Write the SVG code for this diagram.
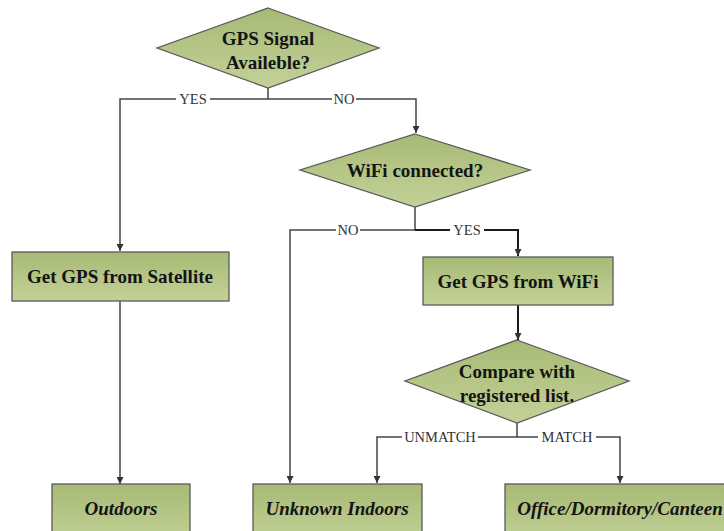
<svg xmlns="http://www.w3.org/2000/svg" width="724" height="531" viewBox="0 0 724 531">
<defs>
<linearGradient id="g" x1="0" y1="0" x2="0" y2="1">
<stop offset="0" stop-color="#a7ba74"/>
<stop offset="1" stop-color="#c3d198"/>
</linearGradient>
<marker id="ah" viewBox="0 0 10 10" refX="10" refY="5" markerWidth="7" markerHeight="7" markerUnits="userSpaceOnUse" orient="auto">
<path d="M0,0 L10,5 L0,10 z" fill="#333"/>
</marker>
<style>
.shape{fill:url(#g);stroke:#5a5a5a;stroke-width:1.3}
.t{font-family:"Liberation Serif","Times New Roman",serif;font-weight:bold;font-size:19px;fill:#141414;text-anchor:middle;dominant-baseline:central}
.ti{font-style:italic}
.ln{fill:none;stroke:#444;stroke-width:1.5}
.lnb{fill:none;stroke:#1a1a1a;stroke-width:2}
.lb{font-family:"Liberation Serif","Times New Roman",serif;font-size:14.5px;fill:#333;text-anchor:middle;dominant-baseline:central}
.bg{fill:#fff}
</style>
</defs>
<rect width="724" height="531" fill="#fff"/>
<g id="connectors">
<path class="ln" d="M268,88 V99"/>
<path class="ln" d="M268,99 H120 V251" marker-end="url(#ah)"/>
<path class="ln" d="M268,99 H416 V133" marker-end="url(#ah)"/>
<path class="ln" d="M415,207 V230"/>
<path class="ln" d="M415,230 H290 V483" marker-end="url(#ah)"/>
<path class="lnb" d="M415,230 H518 V256" marker-end="url(#ah)"/>
<path class="lnb" d="M518,305 V340" marker-end="url(#ah)"/>
<path class="ln" d="M120,301 V484" marker-end="url(#ah)"/>
<path class="ln" d="M517,423 V437"/>
<path class="ln" d="M517,437 H377 V483" marker-end="url(#ah)"/>
<path class="ln" d="M517,437 H620 V483" marker-end="url(#ah)"/>
<rect class="bg" x="176" y="92" width="34" height="14"/>
<text class="lb" x="193" y="99">YES</text>
<rect class="bg" x="332" y="92" width="24" height="14"/>
<text class="lb" x="344" y="99">NO</text>
<rect class="bg" x="336" y="223" width="24" height="14"/>
<text class="lb" x="348" y="230">NO</text>
<rect class="bg" x="450" y="223" width="34" height="14"/>
<text class="lb" x="467" y="230">YES</text>
<rect class="bg" x="402" y="430" width="76" height="14"/>
<text class="lb" x="440" y="437">UNMATCH</text>
<rect class="bg" x="538" y="430" width="58" height="14"/>
<text class="lb" x="567" y="437">MATCH</text>
</g>
<g id="gps-signal">
<polygon class="shape" points="268,8 379,48 268,88 157,48"/>
<text class="t" x="268" y="38">GPS Signal</text>
<text class="t" x="268" y="62">Availeble?</text>
</g>
<g id="wifi-connected">
<polygon class="shape" points="415,134 530,170 415,207 300,170"/>
<text class="t" x="415" y="170">WiFi connected?</text>
</g>
<g id="gps-satellite">
<rect class="shape" x="12" y="252" width="217" height="49"/>
<text class="t" x="120" y="276">Get GPS from Satellite</text>
</g>
<g id="gps-wifi">
<rect class="shape" x="423" y="257" width="190" height="48"/>
<text class="t" x="518" y="281">Get GPS from WiFi</text>
</g>
<g id="compare">
<polygon class="shape" points="517,340 629,381 517,423 405,381"/>
<text class="t" x="517" y="371">Compare with</text>
<text class="t" x="517" y="395">registered list.</text>
</g>
<g id="outdoors">
<rect class="shape" x="52" y="484" width="138" height="60"/>
<text class="t ti" x="121" y="508">Outdoors</text>
</g>
<g id="unknown-indoors">
<rect class="shape" x="253" y="484" width="169" height="60"/>
<text class="t ti" x="337" y="508">Unknown Indoors</text>
</g>
<g id="office">
<rect class="shape" x="505" y="484" width="230" height="60"/>
<text class="t ti" x="620" y="508">Office/Dormitory/Canteen</text>
</g>
</svg>
